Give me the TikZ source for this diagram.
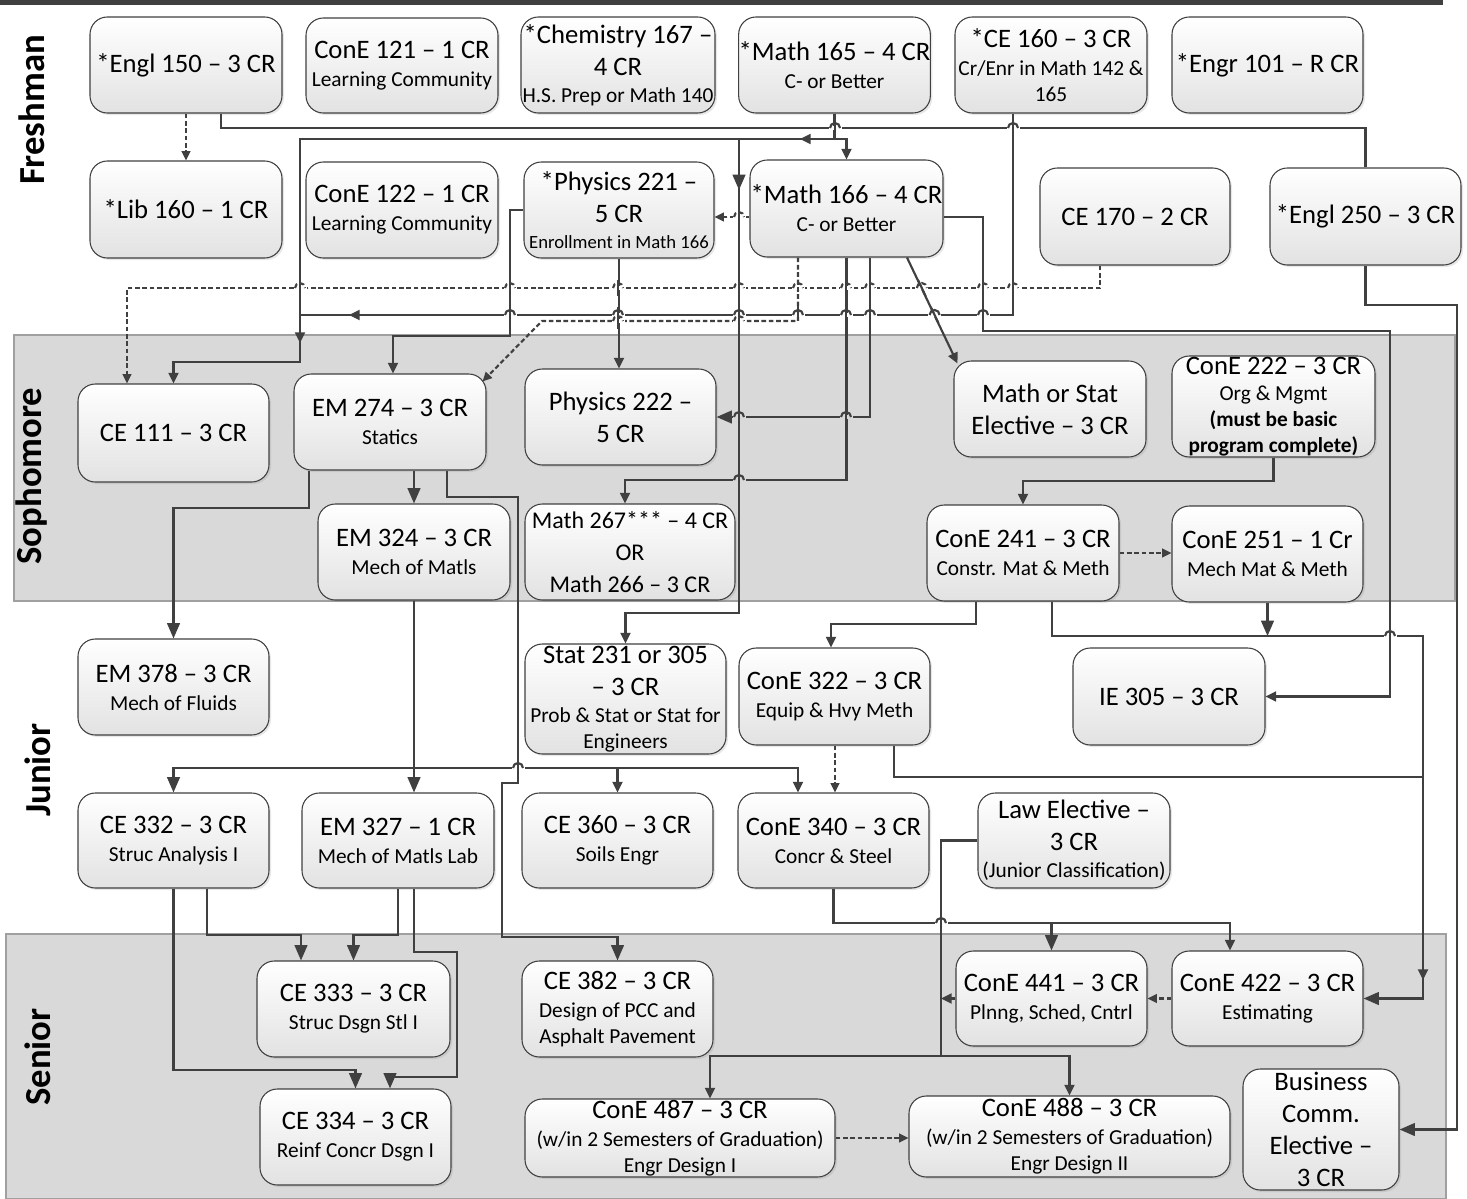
\documentclass[tikz,border=0pt]{standalone}
\usepackage{fontspec}
\setmainfont{Carlito}
\usetikzlibrary{arrows.meta,shadows,calc}
\definecolor{lc}{HTML}{404040}
\definecolor{bandfill}{HTML}{D9D9D9}
\definecolor{bandline}{HTML}{A0A0A0}
\definecolor{boxbot}{HTML}{E2E2E2}
\newcommand\tsz{\fontsize{20}{24}\selectfont}
\newcommand\ssz{\fontsize{16}{19.5}\selectfont}
\newcommand\xsz{\fontsize{14}{17}\selectfont}
\newcommand\ysz{\fontsize{27.5}{30}\selectfont\bfseries}
\newcommand\B[6]{\node[box, minimum width={(#4-#2)*0.75pt}, minimum height={(#5-#3)*0.75pt}] (#1) at ({(#2+#4)/2},{(#3+#5)/2}) {#6};}
% line hop: #1 background, #2 x, #3 y, #4 style of the hopping line, #5 style of the crossed vertical line
\newcommand\hop[5]{%
  \fill[#1] ({#2-6.5},{#3-2.2}) rectangle ({#2+6.5},{#3+2.2});
  \draw[#5] (#2,{#3-8}) -- (#2,{#3+8});
  \draw[#4] ({#2-5},#3) arc[start angle=180,end angle=360,radius=5];}
\begin{document}
\begin{tikzpicture}[x=0.75pt, y=-0.75pt,
  box/.style={draw=lc, line width=0.8pt, rounded corners=13pt, top color=white, bottom color=boxbot, align=center, inner sep=0pt, font=\tsz, drop shadow={shadow xshift=1.5pt, shadow yshift=-1.5pt, opacity=0.18}},
  conn/.style={draw=lc, line width=1.6pt},
  arr/.style={conn, -{Triangle[length=8pt,width=7.5pt]}},
  barr/.style={conn, -{Triangle[length=11.5pt,width=9.5pt]}},
  dsh/.style={conn, dash pattern=on 3.5pt off 2pt},
  darr/.style={dsh, -{Triangle[length=7pt,width=6.5pt]}},
  year/.style={rotate=90, font=\ysz, inner sep=0pt},
  band/.style={fill=bandfill, draw=bandline, line width=0.8pt}]
\useasboundingbox (0,0) rectangle (1467,1199);
\fill[white] (0,0) rectangle (1467,1199);
\fill[lc] (0,0) rectangle (1443,5);
% bands
\path[band] (14,335) rectangle (1455,601);
\path[band] (6,934) rectangle (1446,1199);
% year labels
\node[year] (yfr) at (32,110) {Freshman};
\node[year] (yso) at (32,476) {Sophomore};
\node[year] (yjr) at (38,770) {Junior};
\node[year] (ysr) at (38,1057) {Senior};
% Freshman
\B{engl150}{90}{17}{282}{113}{*Engl 150 – 3 CR}
\B{cone121}{306}{18}{498}{113}{ConE 121 – 1 CR\\[-3pt]{\ssz Learning Community}}
\B{chem167}{521}{17}{715}{113}{*Chemistry 167 –\\4 CR\\[-4pt]{\ssz H.S. Prep or Math 140}}
\B{math165}{739}{17}{930}{113}{*Math 165 – 4 CR\\[-3pt]{\ssz C- or Better}}
\B{ce160}{955}{17}{1147}{113}{*CE 160 – 3 CR\\[-3pt]{\ssz Cr/Enr in Math 142 \&}\\[-4.5pt]{\ssz 165}}
\B{engr101}{1172}{17}{1363}{113}{*Engr 101 – R CR}
\B{lib160}{90}{161}{282}{258}{*Lib 160 – 1 CR}
\B{cone122}{306}{162}{498}{258}{ConE 122 – 1 CR\\[-3pt]{\ssz Learning Community}}
\B{phys221}{524}{162}{714}{258}{*Physics 221 –\\5 CR\\[-5pt]{\xsz Enrollment in Math 166}}
\B{math166}{750}{160}{943}{257}{*Math 166 – 4 CR\\[-3pt]{\ssz C- or Better}}
\B{ce170}{1040}{168}{1230}{265}{CE 170 – 2 CR}
\B{engl250}{1270}{168}{1461}{265}{*Engl 250 – 3 CR}
% Sophomore
\B{ce111}{78}{384}{269}{482}{CE 111 – 3 CR}
\B{em274}{294}{374}{486}{470}{EM 274 – 3 CR\\[-3pt]{\ssz Statics}}
\B{phys222}{525}{369}{716}{465}{Physics 222 –\\5 CR}
\B{mathstat}{954}{361}{1146}{457}{Math or Stat\\Elective – 3 CR}
\B{cone222}{1172}{356}{1375}{457}{ConE 222 – 3 CR\\[-4pt]{\ssz Org \& Mgmt}\\[-4.5pt]{\ssz\bfseries (must be basic}\\[-4.5pt]{\ssz\bfseries program complete)}}
\B{em324}{318}{504}{510}{600}{EM 324 – 3 CR\\[-3pt]{\ssz Mech of Matls}}
\B{math267}{525}{504}{735}{600}{\fontsize{18}{21.4}\selectfont Math 267*** – 4 CR\\\fontsize{18}{21.4}\selectfont OR\\\fontsize{18}{21.4}\selectfont Math 266 – 3 CR}
\B{cone241}{927}{505}{1119}{601}{ConE 241 – 3 CR\\[-3pt]{\ssz Constr. Mat \& Meth}}
\B{cone251}{1172}{506}{1363}{602}{ConE 251 – 1 Cr\\[-3pt]{\ssz Mech Mat \& Meth}}
% Junior
\B{em378}{78}{639}{269}{735}{EM 378 – 3 CR\\[-3pt]{\ssz Mech of Fluids}}
\B{stat231}{525}{644}{726}{754}{Stat 231 or 305\\– 3 CR\\[-4pt]{\ssz Prob \& Stat or Stat for}\\[-4.5pt]{\ssz Engineers}}
\B{cone322}{739}{648}{930}{745}{ConE 322 – 3 CR\\[-3pt]{\ssz Equip \& Hvy Meth}}
\B{ie305}{1073}{648}{1265}{745}{IE 305 – 3 CR}
\B{ce332}{78}{793}{269}{888}{CE 332 – 3 CR\\[-3pt]{\ssz Struc Analysis I}}
\B{em327}{302}{793}{494}{888}{EM 327 – 1 CR\\[-3pt]{\ssz Mech of Matls Lab}}
\B{ce360}{522}{793}{713}{888}{CE 360 – 3 CR\\[-3pt]{\ssz Soils Engr}}
\B{cone340}{738}{793}{929}{888}{ConE 340 – 3 CR\\[-3pt]{\ssz Concr \& Steel}}
\B{law}{978}{793}{1170}{888}{Law Elective –\\3 CR\\[-4pt]{\ssz (Junior Classification)}}
% Senior
\B{ce333}{257}{961}{450}{1057}{CE 333 – 3 CR\\[-3pt]{\ssz Struc Dsgn Stl I}}
\B{ce382}{522}{961}{713}{1057}{CE 382 – 3 CR\\[-3pt]{\ssz Design of PCC and}\\[-4.5pt]{\ssz Asphalt Pavement}}
\B{cone441}{956}{951}{1147}{1046}{ConE 441 – 3 CR\\[-3pt]{\ssz Plnng, Sched, Cntrl}}
\B{cone422}{1172}{951}{1363}{1046}{ConE 422 – 3 CR\\[-3pt]{\ssz Estimating}}
\B{ce334}{260}{1089}{451}{1185}{CE 334 – 3 CR\\[-3pt]{\ssz Reinf Concr Dsgn I}}
\B{cone487}{525}{1099}{835}{1177}{ConE 487 – 3 CR\\[-3pt]{\ssz (w/in 2 Semesters of Graduation)}\\[-4.5pt]{\ssz Engr Design I}}
\B{cone488}{909}{1096}{1230}{1177}{ConE 488 – 3 CR\\[-3pt]{\ssz (w/in 2 Semesters of Graduation)}\\[-4.5pt]{\ssz Engr Design II}}
\B{business}{1243}{1069}{1399}{1190}{Business\\Comm.\\Elective –\\3 CR}
% ---------- connectors ----------
\coordinate (lawj) at (941,1056);
\draw[darr] (engl150.south) -- (lib160.north);
\draw[conn] (engl150.south -| 221,0) |- (engl250.north |- 0,128) -- (engl250.north);
\draw[barr] (engl250.south) |- (1457,305) |- (business.east);
\draw[arr] (math165.south) |- (math166.north |- 0,139) -- (math166.north);
\draw[arr] (math165.south) |- (300,139) |- (ce111.north |- 0,362) -- (ce111.north);
\draw[arr] (math165.south) |- (739,139) |- (stat231.north |- 0,613) -- (stat231.north);
\draw[barr] (739,160) -- (739,190);
\draw[arr] (830,139) -- (800,139);
\draw[arr] (ce160.south -| 1013,0) |- (300,315) -- (300,343);
\draw[arr] (380,315) -- (349,315);
\draw[darr] (math166.west |- 0,217) -- (phys221.east |- 0,217);
\draw[darr] (math166.south -| 798,0) |- (542,321) -- ($(em274.north east)+(-4,8)$);
\draw[darr] (ce170.south -| 1100,0) |- (127,288) -- (ce111.north -| 127,0);
\draw[arr] (math166.south -| 907,0) -- ($(mathstat.north west)+(4,3)$);
\draw[barr] (math166.south -| 870,0) |- (phys222.east);
\draw[arr] (math166.south) |- (625,480) -- (math267.north -| 625,0);
\draw[arr] (math166.east |- 0,217) -| (983,331) -| (ie305.east -| 1390,0) -- (ie305.east);
\draw[arr] (phys221.west) -| (510,336) -| (em274.north -| 393,0);
\draw[arr] (phys221.south -| 619,0) -- (phys222.north -| 619,0);
% sophomore
\draw[barr] (em274.south -| 309,0) |- (em378.north |- 0,508) -- (em378.north);
\draw[barr] (em274.south -| 414,0) -- (em324.north);
\draw[barr] (em274.south -| 447,0) |- (518,497) |- (502,783) |- (ce382.north |- 0,937) -- (ce382.north);
\draw[barr] (em324.south) -- (em327.north -| em324.south);
\draw[barr] (em324.south) |- (ce332.north |- 0,768) -- (ce332.north);
\draw[arr] (em324.south) |- (ce360.north |- 0,768) -- (ce360.north);
\draw[arr] (em324.south) |- (798,768) -- (cone340.north -| 798,0);
\draw[arr] (cone222.south) |- (cone241.north |- 0,481) -- (cone241.north);
\draw[darr] (cone241.east) -- (cone251.west |- cone241.east);
\draw[arr] (cone241.south -| 976,0) |- (831,624) -- (cone322.north -| 831,0);
\draw[barr] (cone241.south -| 1052,0) |- (1423,636) |- (cone422.east);
\draw[barr] (cone251.south) -- (cone251.south |- 0,636);
\draw[arr] (1423,950) -- (1423,980);
% junior
\draw[darr] (cone322.south -| 835,0) -- (cone340.north -| 835,0);
\draw[conn] (cone322.south -| 894,0) |- (1423,777);
\draw[barr] (cone340.south) |- (cone441.north |- 0,923) -- (cone441.north);
\draw[arr] (cone340.south) |- (1230,923) -- (cone422.north -| 1230,0);
\draw[arr] (law.west) -| (lawj) -| (cone487.north -| 710,0);
\draw[arr] (lawj) -| (cone488.north);
\draw[arr] (cone441.west) -- (cone441.west -| lawj);
\draw[darr] (cone422.west) -- (cone441.east);
\draw[darr] (cone487.east) -- (cone488.west |- cone487.east);
% senior
\draw[barr] (ce332.south) |- (ce334.north |- 0,1070) -- (ce334.north);
\draw[barr] (ce332.south -| 207,0) |- (301,935) -- (ce333.north -| 301,0);
\draw[barr] (em327.south) |- (ce333.north |- 0,935) -- (ce333.north);
\draw[barr] (em327.south -| 414,0) |- (457,952) |- (390,1077) -- (ce334.north -| 390,0);
% ---------- line hops ----------
\hop{white}{835}{128}{conn}{conn}
\hop{white}{1013}{128}{conn}{conn}
\hop{white}{739}{217}{dsh}{conn}
\foreach \hx in {300,510,618,739,846,870,983,1013} {\hop{white}{\hx}{288}{dsh}{conn}}
\hop{white}{798}{288}{dsh}{dsh}
\foreach \hx in {510,618,739,846,870,983} {\hop{white}{\hx}{315}{conn}{conn}}
\fill[white] (791.5,312.8) rectangle (804.5,317.2);
\draw[dsh] (798,305) -- (798,321);
\draw[conn] (793,315) arc[start angle=180,end angle=360,radius=5];
\foreach \hx in {618,739} {\hop{white}{\hx}{321}{dsh}{conn}}
% hops over the diagonal line
\fill[white] (915.3,285.8) rectangle (928.3,290.2);
\draw[conn] (918,280) -- (925.6,296);
\draw[dsh] (916.8,288) arc[start angle=180,end angle=360,radius=5];
\fill[white] (928.1,312.8) rectangle (941.1,317.2);
\draw[conn] (930.8,307) -- (938.4,323);
\draw[conn] (929.6,315) arc[start angle=180,end angle=360,radius=5];
\hop{bandfill}{739}{417}{conn}{conn}
\hop{bandfill}{846}{417}{conn}{conn}
\hop{bandfill}{739}{480}{conn}{conn}
\hop{white}{1390}{636}{conn}{conn}
\hop{white}{518}{768}{conn}{conn}
\hop{white}{941}{923}{conn}{conn}
\end{tikzpicture}
\end{document}
